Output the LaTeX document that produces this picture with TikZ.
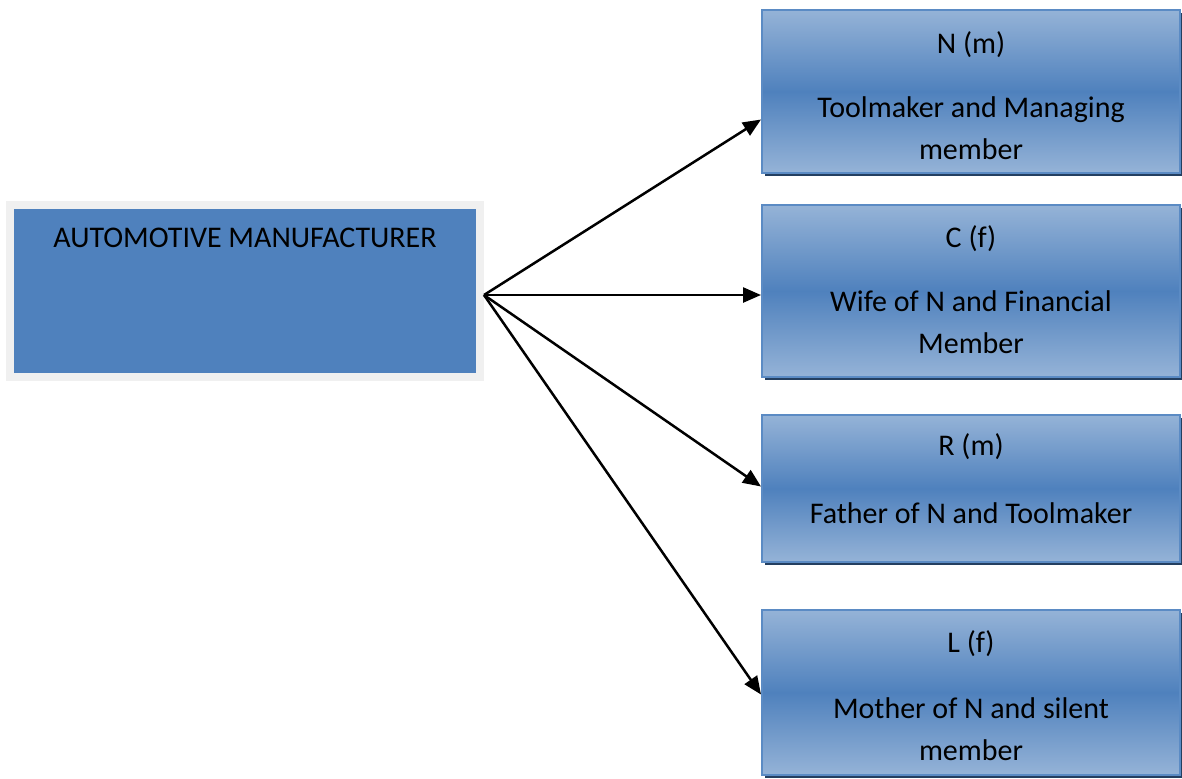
\documentclass[tikz,border=0pt]{standalone}
\usepackage{fontspec}
\setmainfont{Carlito}
\usetikzlibrary{arrows.meta,shadows}
\definecolor{boxblue}{HTML}{4F81BD}
\definecolor{lightblue}{HTML}{95B3D7}
\definecolor{edgeblue}{HTML}{5B8BC4}
\definecolor{shadowblue}{HTML}{243F60}
\definecolor{framegray}{HTML}{F0F0F0}
\definecolor{shadowgray}{HTML}{9BA9BC}
\tikzset{
  member/.style={rectangle, draw=edgeblue, line width=1pt,
    top color=lightblue, bottom color=lightblue, middle color=boxblue,
    minimum width=209pt, inner sep=0pt,
    drop shadow={shadow xshift=1.5pt, shadow yshift=-1.5pt, fill=shadowblue, opacity=1}},
  membertext/.style={align=center, inner sep=0pt, font=\fontsize{15}{21}\selectfont},
  link/.style={-{Triangle[length=9pt,width=7.5pt]}, line width=1.25pt}
}
\begin{document}
\begin{tikzpicture}[x=0.5pt,y=-0.5pt]
  \useasboundingbox (0,0) rectangle (1182,778);
  % company box
  \node[rectangle, fill=boxblue, draw=framegray, line width=4pt,
        minimum width=235pt, minimum height=86pt, inner sep=0pt,
        drop shadow={shadow xshift=1.5pt, shadow yshift=-1.5pt, fill=shadowgray, opacity=1}]
        (company) at (245,291) {};
  \node[font=\fontsize{15}{21}\selectfont] (companylabel) at (245,238) {AUTOMOTIVE MANUFACTURER};
  % members
  \node[member, minimum height=81.5pt] (nmember) at (971,91.5) {};
  \node[member, minimum height=86pt] (cmember) at (971,291) {};
  \node[member, minimum height=73.5pt] (rmember) at (971,488.5) {};
  \node[member, minimum height=82.5pt] (lmember) at (971,692.5) {};
  \node[membertext] (ntext) at ([yshift=-2pt]nmember.center)
    {N (m)\\[11pt]Toolmaker and Managing\\member};
  \node[membertext] (ctext) at ([yshift=0.5pt]cmember.center)
    {C (f)\\[11pt]Wife of N and Financial\\Member};
  \node[membertext] (rtext) at ([yshift=5pt]rmember.center)
    {R (m)\\[13pt]Father of N and Toolmaker};
  \node[membertext] (ltext) at ([yshift=-1.75pt]lmember.center)
    {L (f)\\[12pt]Mother of N and silent\\member};
  % links
  \draw[link] ([yshift=-2pt]company.east) -- ([yshift=-14pt]nmember.west);
  \draw[link] ([yshift=-2pt]company.east) -- ([yshift=-2pt]cmember.west);
  \draw[link] ([yshift=-2pt]company.east) -- ([yshift=1pt]rmember.west);
  \draw[link] ([yshift=-2pt]company.east) -- ([yshift=-1pt]lmember.west);
\end{tikzpicture}
\end{document}
